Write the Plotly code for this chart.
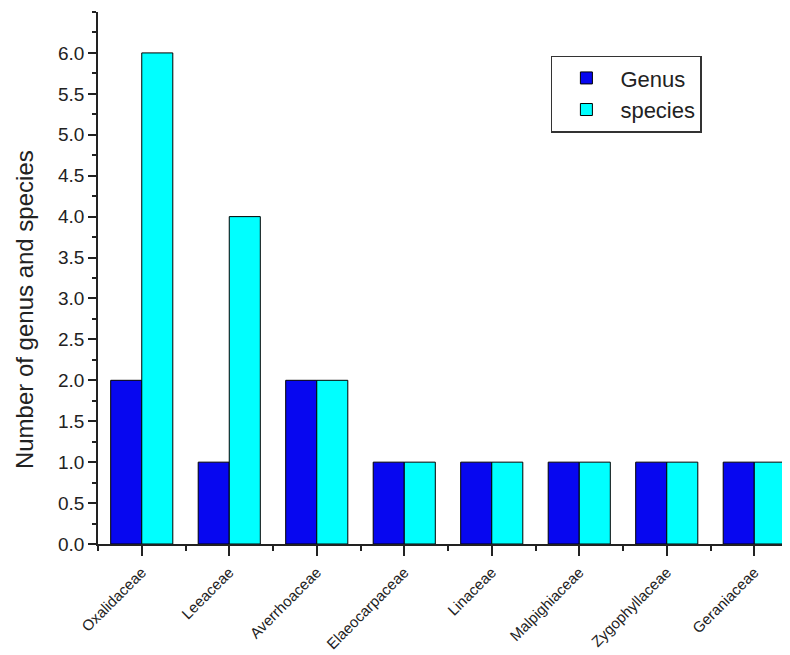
import plotly.graph_objects as go

families = ["Oxalidaceae", "Leeaceae", "Averrhoaceae", "Elaeocarpaceae",
            "Linaceae", "Malpighiaceae", "Zygophyllaceae", "Geraniaceae"]
genus = [2, 1, 2, 1, 1, 1, 1, 1]
species = [6, 4, 2, 1, 1, 1, 1, 1]
y_ticks = [0.0, 0.5, 1.0, 1.5, 2.0, 2.5, 3.0, 3.5, 4.0, 4.5, 5.0, 5.5, 6.0]

xpos = list(range(len(families)))

fig = go.Figure()
fig.add_trace(go.Bar(x=xpos, y=genus, name="Genus",
                     marker=dict(color="#0707F0", line=dict(color="black", width=1))))
fig.add_trace(go.Bar(x=xpos, y=species, name="species",
                     marker=dict(color="#00FFFF", line=dict(color="black", width=1))))

fig.update_layout(
    width=790, height=655,
    margin=dict(l=90, r=0, t=4, b=119),
    paper_bgcolor="white", plot_bgcolor="white",
    barmode="group", bargap=0.29, bargroupgap=0,
    font=dict(family="Liberation Sans, Arial", color="#222"),
    legend=dict(x=0.647, y=0.918, xanchor="left", yanchor="top",
                bordercolor="#333", borderwidth=1.5, bgcolor="white",
                font=dict(size=22), tracegroupgap=0, itemwidth=58),
    showlegend=True,
    annotations=[dict(text="Number of genus and species", textangle=-90,
                      xref="paper", yref="paper", x=-0.104, y=0.44,
                      xanchor="center", yanchor="middle", showarrow=False,
                      font=dict(size=24, color="#222"))],
)
fig.update_xaxes(
    range=[-0.5, 7.5], tickmode="array", tickvals=xpos, ticktext=families,
    tickangle=-45, tickfont=dict(size=15), ticklabelstandoff=2, automargin=False,
    showline=True, linecolor="#222", linewidth=1.5,
    ticks="outside", ticklen=10, tickwidth=1.5, tickcolor="#222",
    showgrid=False, zeroline=False,
    minor=dict(tickvals=[i + 0.5 for i in range(-1, len(families))],
               ticks="outside", ticklen=5, tickwidth=1.5, tickcolor="#222", showgrid=False),
)
fig.update_yaxes(
    range=[0, 6.5], tickmode="array", tickvals=y_ticks,
    ticktext=[f"{v:.1f}" for v in y_ticks],
    tickfont=dict(size=19), automargin=False,
    showline=True, linecolor="#222", linewidth=1.5,
    ticks="outside", ticklen=8, tickwidth=1.5, tickcolor="#222",
    showgrid=False, zeroline=False,
    minor=dict(dtick=0.25, tick0=0, ticks="outside", ticklen=4, tickwidth=1.5,
               tickcolor="#222", showgrid=False),
)

fig.write_html("out.html")
